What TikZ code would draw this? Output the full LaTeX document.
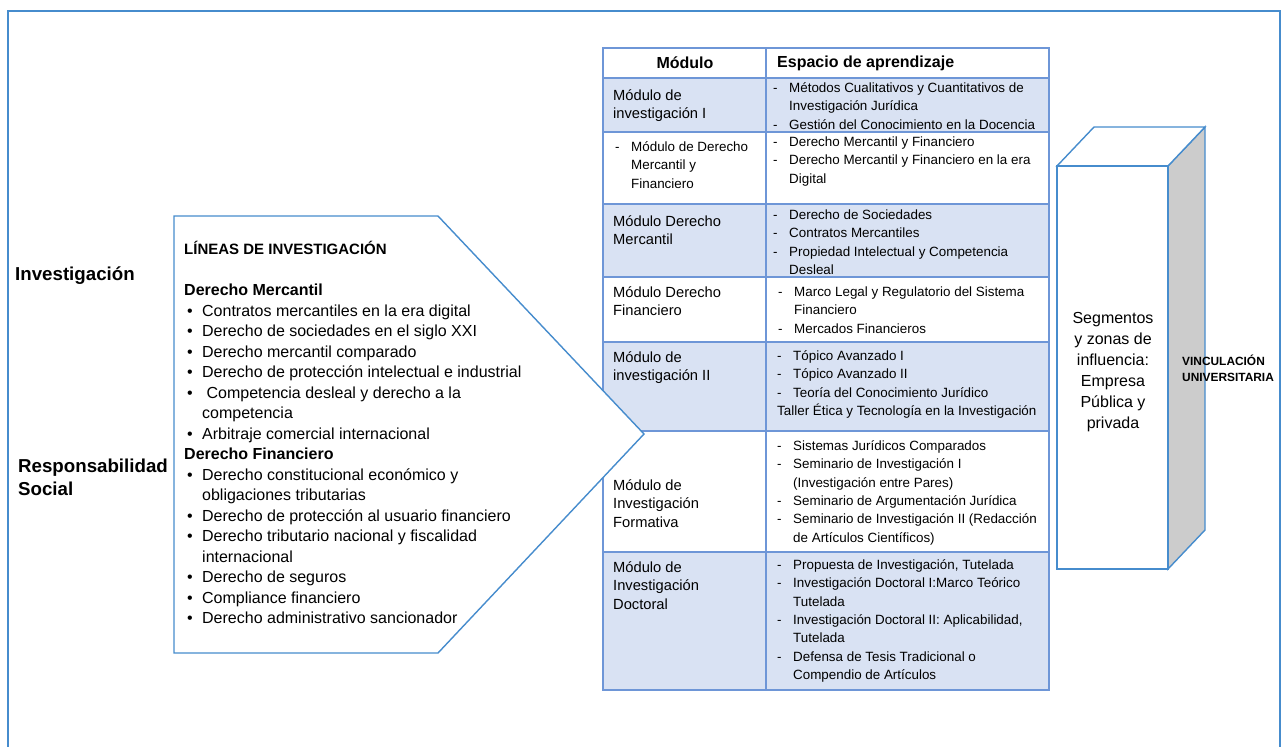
\documentclass[tikz,border=0pt]{standalone}
\usepackage{fontspec}
\setmainfont{Liberation Sans}
\usetikzlibrary{positioning}
\definecolor{frameblue}{RGB}{70,140,205}
\definecolor{gridblue}{RGB}{110,150,215}
\definecolor{shadeblue}{RGB}{217,226,243}
\definecolor{sidegrey}{RGB}{204,204,204}
\tikzstyle{every node}=[inner sep=0pt, text=black]
\tikzstyle{cell}=[anchor=base west, font=\fontsize{13.4}{18.3}\selectfont]
\tikzstyle{modcell}=[anchor=base west, font=\fontsize{14.7}{18.5}\selectfont]
\tikzstyle{head}=[font=\fontsize{16}{18}\selectfont\bfseries]
\tikzstyle{grid}=[draw=gridblue, line width=1.2pt]
\tikzstyle{outline}=[draw=frameblue, line width=1.4pt]
\tikzstyle{shade}=[fill=shadeblue]
\newcommand{\dashlist}[1]{\begin{tabular}[t]{@{}p{16pt}@{}l@{}}#1\end{tabular}}
\newcommand{\plainlist}[1]{\begin{tabular}[t]{@{}l@{}}#1\end{tabular}}
\newcommand{\whole}[1]{\multicolumn{2}{@{}l@{}}{#1}}

\begin{document}
\begin{tikzpicture}[x=1pt, y=-1pt]
\useasboundingbox (0,0) rectangle (1288,747);
% outer frame
\draw[outline] (8,760) -- (8,11) -- (1280,11) -- (1280,760);

% table of modules
\fill[shade] (603,78) rectangle (1049,132);
\fill[shade] (603,204) rectangle (1049,277);
\fill[shade] (603,342) rectangle (1049,431);
\fill[shade] (603,552) rectangle (1049,690);
\draw[grid] (603,48) rectangle (1049,690);
\draw[grid] (766,48) -- (766,690);
\draw[grid, line width=2.2pt] (603,78) -- (1049,78);
\foreach \y in {132,204,277,342,431,552}
  \draw[grid] (603,\y) -- (1049,\y);

\node[head] (hmod) at (685,63) {Módulo};
\node[head, anchor=west] (hesp) at (777,63) {Espacio de aprendizaje};

\node[modcell] (mod1) at (613,100) {\plainlist{Módulo de\\investigación I}};
\node[cell] (esp1) at (773,92.5) {\dashlist{- & Métodos Cualitativos y Cuantitativos de\\
  & Investigación Jurídica\\
  - & Gestión del Conocimiento en la Docencia}};

\node[cell] (mod2) at (615,151.5) {\dashlist{- & Módulo de Derecho\\ & Mercantil y\\ & Financiero}};
\node[cell] (esp2) at (773,146.5) {\dashlist{- & Derecho Mercantil y Financiero\\
  - & Derecho Mercantil y Financiero en la era\\
  & Digital}};

\node[modcell] (mod3) at (613,226) {\plainlist{Módulo Derecho\\Mercantil}};
\node[cell] (esp3) at (773,219.5) {\dashlist{- & Derecho de Sociedades\\
  - & Contratos Mercantiles\\
  - & Propiedad Intelectual y Competencia\\
  & Desleal}};

\node[modcell] (mod4) at (613,297) {\plainlist{Módulo Derecho\\Financiero}};
\node[cell] (esp4) at (778,296.5) {\dashlist{- & Marco Legal y Regulatorio del Sistema\\
  & Financiero\\
  - & Mercados Financieros}};

\node[modcell] (mod5) at (613,362) {\plainlist{Módulo de\\investigación II}};
\node[cell] (esp5) at (777,360.5) {\dashlist{- & Tópico Avanzado I\\
  - & Tópico Avanzado II\\
  - & Teoría del Conocimiento Jurídico\\
  \whole{Taller Ética y Tecnología en la Investigación}}};

\node[modcell] (mod6) at (613,490) {\plainlist{Módulo de\\Investigación\\Formativa}};
\node[cell] (esp6) at (777,450.5) {\dashlist{- & Sistemas Jurídicos Comparados\\
  - & Seminario de Investigación I\\
  & (Investigación entre Pares)\\
  - & Seminario de Argumentación Jurídica\\
  - & Seminario de Investigación II (Redacción\\
  & de Artículos Científicos)}};

\node[modcell] (mod7) at (613,572) {\plainlist{Módulo de\\Investigación\\Doctoral}};
\node[cell] (esp7) at (777,569.5) {\dashlist{- & Propuesta de Investigación, Tutelada\\
  - & Investigación Doctoral I:Marco Teórico\\
  & Tutelada\\
  - & Investigación Doctoral II: Aplicabilidad,\\
  & Tutelada\\
  - & Defensa de Tesis Tradicional o\\
  & Compendio de Artículos}};

% research lines
\draw[outline, fill=white] (174,216) -- (438,216) -- (644,434) -- (438,653) -- (174,653) -- cycle;
\node[anchor=base west, font=\fontsize{16}{20.5}\selectfont] (lineas) at (184,254.5) {%
  \begin{tabular}[t]{@{}p{18pt}@{}l@{}}
  \whole{\fontsize{15}{20.5}\selectfont\bfseries LÍNEAS DE INVESTIGACIÓN}\\
  \\
  \whole{\bfseries Derecho Mercantil}\\
  \hspace{3pt}\textbullet & Contratos mercantiles en la era digital\\
  \hspace{3pt}\textbullet & Derecho de sociedades en el siglo XXI\\
  \hspace{3pt}\textbullet & Derecho mercantil comparado\\
  \hspace{3pt}\textbullet & Derecho de protección intelectual e industrial\\
  \hspace{3pt}\textbullet & \hspace{4.4pt}Competencia desleal y derecho a la\\
  & competencia\\
  \hspace{3pt}\textbullet & Arbitraje comercial internacional\\
  \whole{\bfseries Derecho Financiero}\\
  \hspace{3pt}\textbullet & Derecho constitucional económico y\\
  & obligaciones tributarias\\
  \hspace{3pt}\textbullet & Derecho de protección al usuario financiero\\
  \hspace{3pt}\textbullet & Derecho tributario nacional y fiscalidad\\
  & internacional\\
  \hspace{3pt}\textbullet & Derecho de seguros\\
  \hspace{3pt}\textbullet & Compliance financiero\\
  \hspace{3pt}\textbullet & Derecho administrativo sancionador
  \end{tabular}};

\node[anchor=base west, font=\fontsize{18.7}{23}\selectfont\bfseries] (invest) at (15,280.5) {Investigación};
\node[anchor=base west, font=\fontsize{18.7}{23}\selectfont\bfseries] (social) at (18,472.5) {\plainlist{Responsabilidad\\Social}};

% vinculacion box
\draw[outline, fill=sidegrey] (1168,166) -- (1205,127) -- (1205,530) -- (1168,569) -- cycle;
\draw[outline, fill=white] (1057,166) -- (1094,127) -- (1205,127) -- (1168,166) -- cycle;
\draw[outline, fill=white] (1057,166) rectangle (1168,569);
\node[align=center, font=\fontsize{16}{21}\selectfont] (segm) at (1113,372.5) {Segmentos\\y zonas de\\influencia:\\Empresa\\Pública y\\privada};
\node[anchor=base west, font=\fontsize{11.9}{16}\selectfont\bfseries] (vinc) at (1182,365.5) {\plainlist{VINCULACIÓN\\UNIVERSITARIA}};
\end{tikzpicture}
\end{document}
